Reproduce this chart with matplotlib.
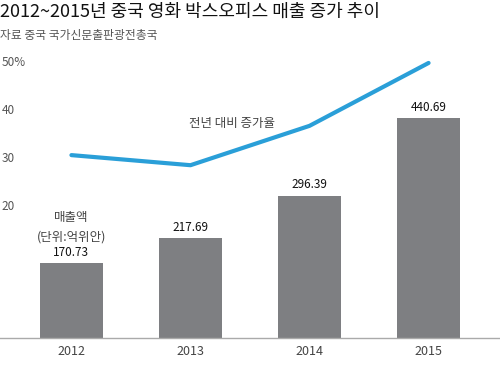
import matplotlib
matplotlib.use("Agg")
import matplotlib.pyplot as plt
import numpy as np

plt.rcParams['font.family'] = ['Noto Sans CJK KR', 'DejaVu Sans']

years = ["2012", "2013", "2014", "2015"]
sales = [170.73, 217.69, 296.39, 440.69]          # 억위안
growth = [30.4, 28.3, 36.5, 49.6]                  # %
pct_ticks = [20, 30, 40, 50]
pct_labels = ["20", "30", "40", "50%"]

bar_color = "#7e7f82"
line_color = "#2a9fd8"
text_gray = "#444444"

fig = plt.figure(figsize=(5.0, 3.68), dpi=100)
ax = fig.add_axes([0, 30 / 368, 1, 288 / 368])
ax2 = ax.twinx()

x = np.arange(len(years))
ax.bar(x, sales, width=0.525, color=bar_color, zorder=2)
ax.set_xlim(-0.6, 3.6)
ax.set_ylim(31.1, 567.4)

for xi, v in zip(x, sales):
    ax.text(xi, v + 8, f"{v:.2f}", ha="center", va="bottom",
            fontsize=8.5, color="#111111")

ax.text(0, 255, "매출액", ha="center", va="center", fontsize=9, color=text_gray)
ax.text(0, 219, "(단위:억위안)", ha="center", va="center", fontsize=9, color=text_gray)

ax.set_xticks(x)
ax.set_xticklabels(years, fontsize=9, color=text_gray)
ax.tick_params(axis="x", length=0, pad=5)
ax.set_yticks([])
for s in ["top", "left", "right"]:
    ax.spines[s].set_visible(False)
ax.spines["bottom"].set_color("#aaaaaa")
ax.spines["bottom"].set_linewidth(1)

ax2.plot(x, growth, color=line_color, linewidth=3, solid_capstyle="round",
         solid_joinstyle="round", zorder=3)
ax2.set_ylim(-7.7, 52.3)
ax2.yaxis.set_ticks_position("left")
ax2.set_yticks(pct_ticks)
ax2.set_yticklabels(pct_labels, fontsize=8.5, color="#555555")
ax2.tick_params(axis="y", length=0, pad=-1)
for lab in ax2.get_yticklabels():
    lab.set_horizontalalignment("left")
for s in ["top", "left", "right", "bottom"]:
    ax2.spines[s].set_visible(False)
ax2.text(1.35, 37, "전년 대비 증가율", ha="center", va="center",
         fontsize=9, color=text_gray)

fig.text(0.0, 1 - 12 / 368, "2012~2015년 중국 영화 박스오피스 매출 증가 추이",
         ha="left", va="center", fontsize=13, color="#111111")
fig.text(0.0, 1 - 36 / 368, "자료 중국 국가신문출판광전총국",
         ha="left", va="center", fontsize=8.5, color="#555555")

fig.savefig("out.png", dpi=100)
